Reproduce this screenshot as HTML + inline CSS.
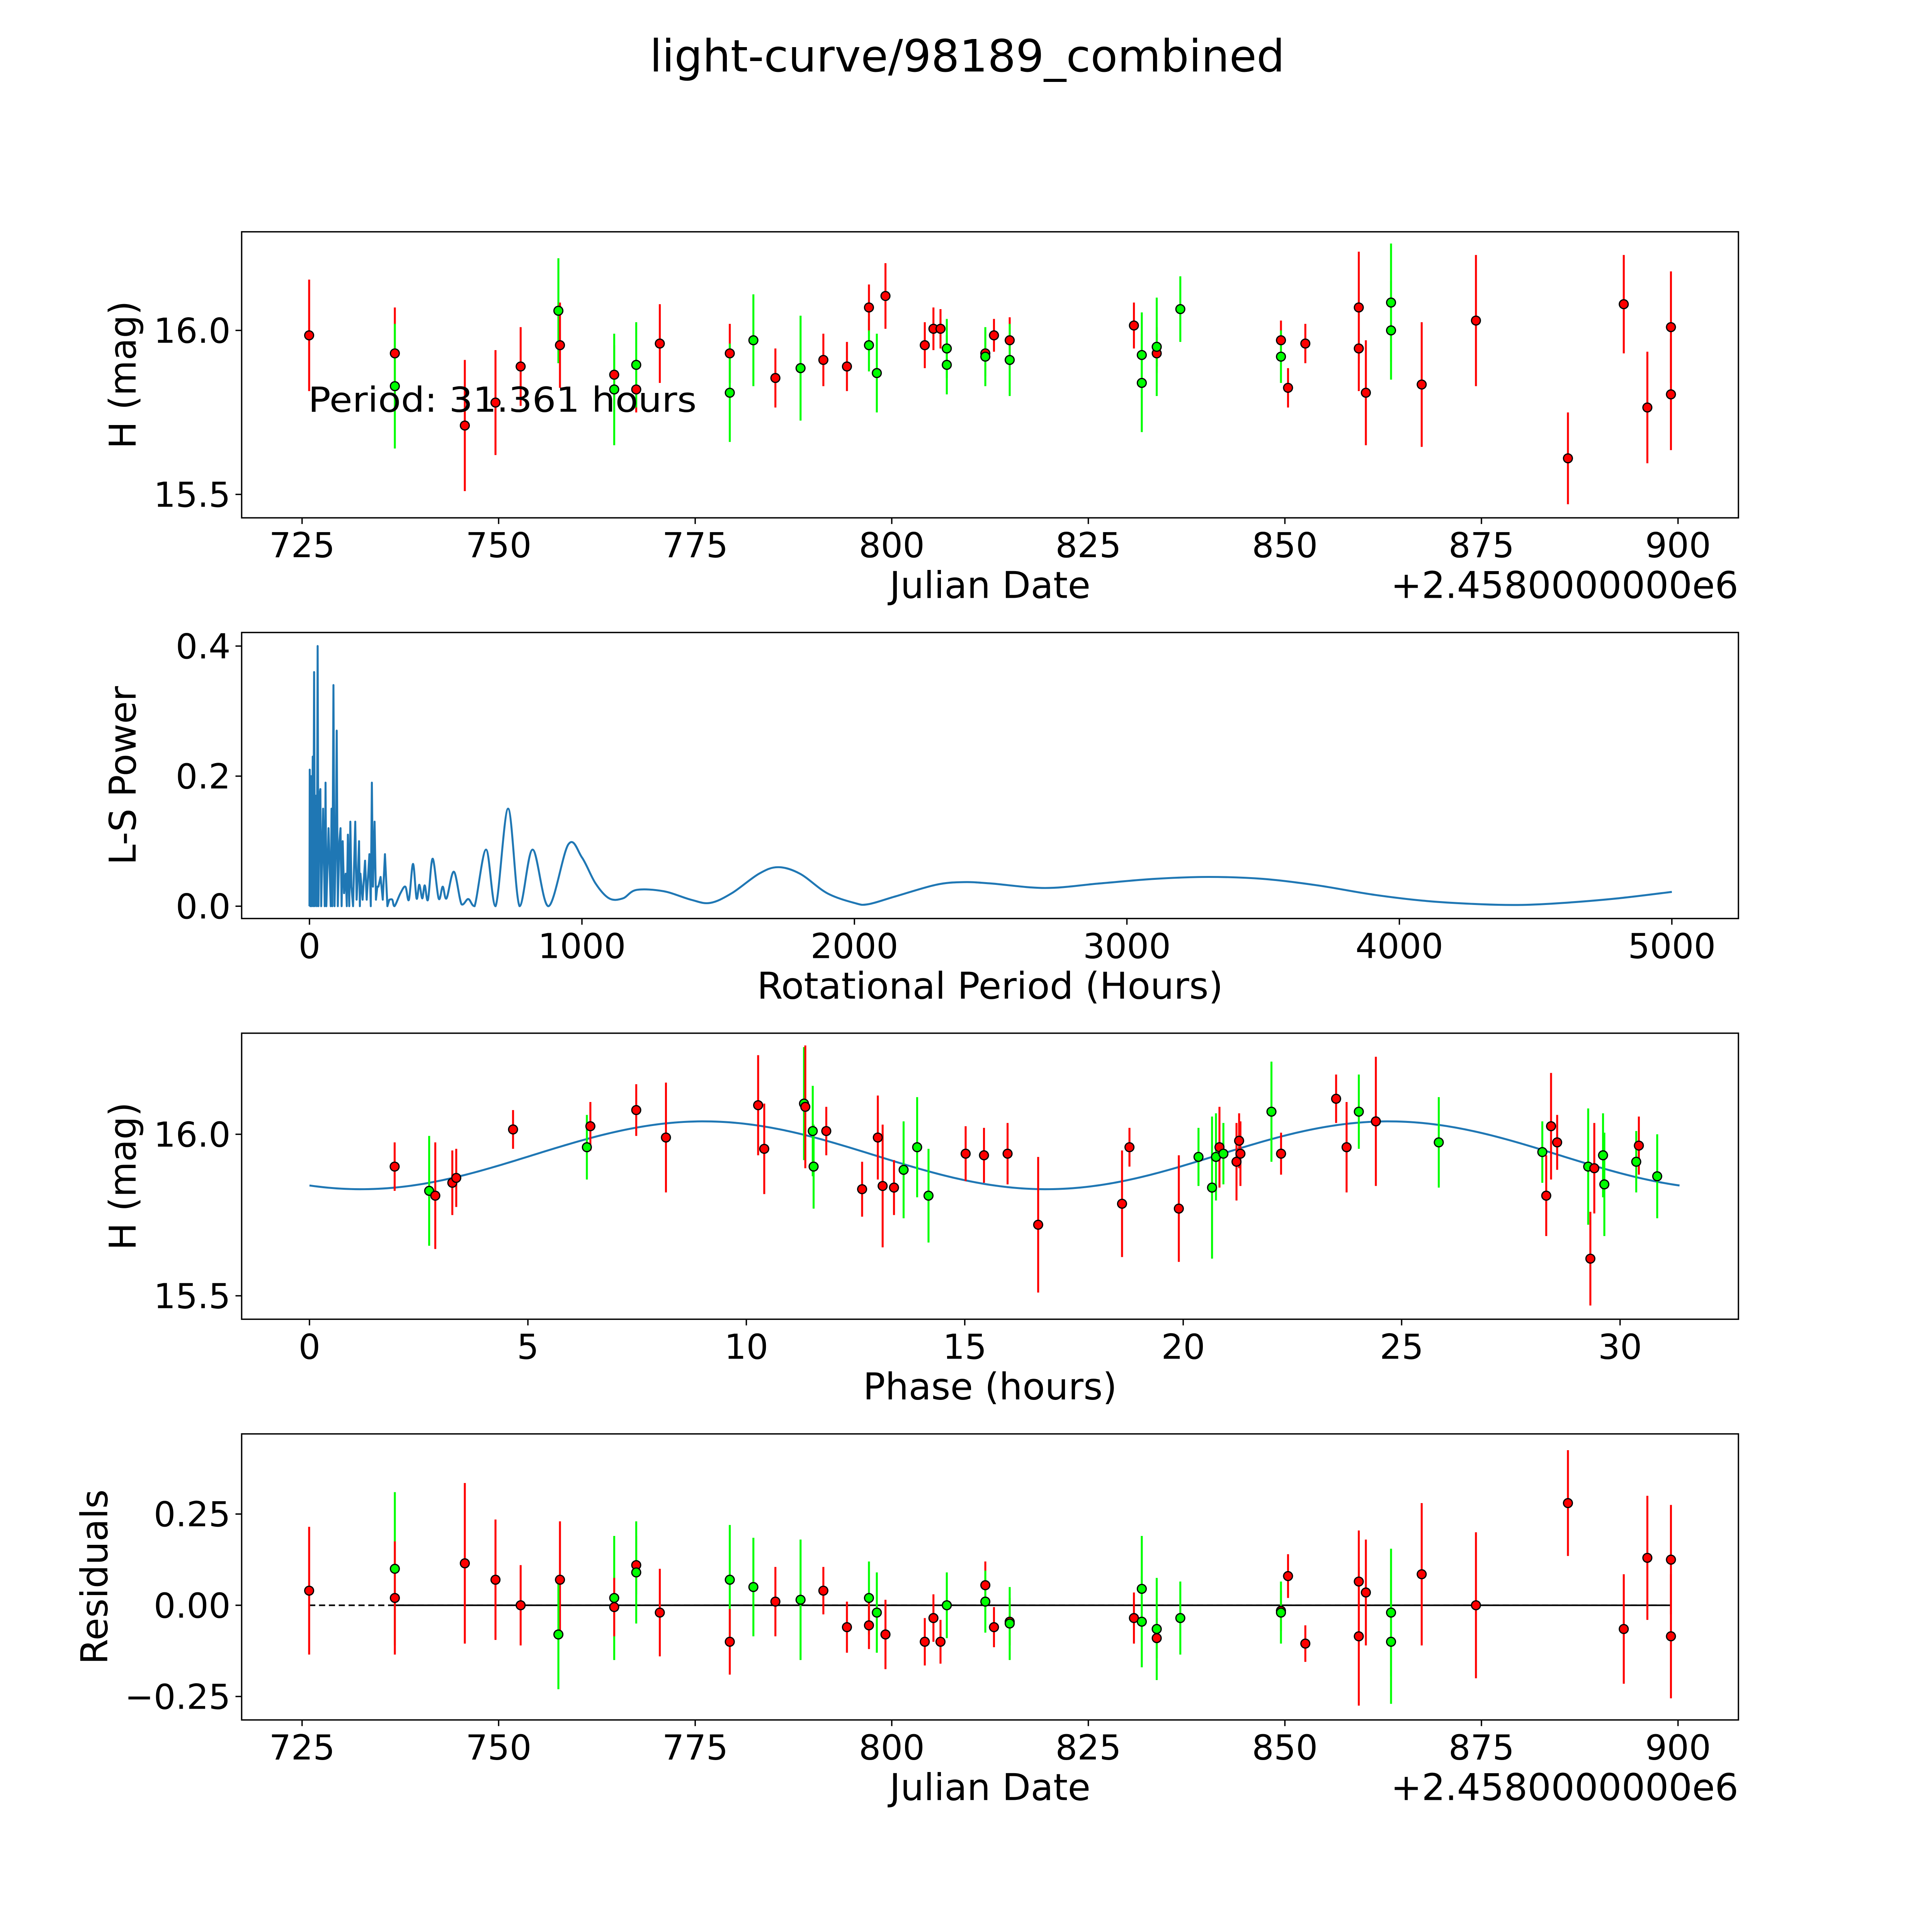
<!DOCTYPE html>
<html><head><meta charset="utf-8">
<style>
html,body{margin:0;padding:0;background:#fff;overflow:hidden;width:100vw;height:100vh;}
svg{display:block;width:100vw;height:100vh;}
text{font-family:"DejaVu Sans","Liberation Sans",sans-serif;fill:#000;}
</style></head>
<body>
<svg id="fig" xmlns="http://www.w3.org/2000/svg" viewBox="0 0 1567 1567" preserveAspectRatio="none">
<rect x="0" y="0" width="1567" height="1567" fill="#fff"/>
<text x="527" y="58" font-size="36" textLength="515" lengthAdjust="spacingAndGlyphs">light-curve/98189_combined</text>
</svg>
<script>
// ---- Panel 1: light curve data ----
const lcDates = [725.9,736.8,736.8,745.7,749.6,752.8,757.6,757.8,764.7,764.7,767.5,767.5,770.5,779.4,779.4,782.4,785.2,788.4,791.3,794.3,797.1,797.1,798.1,799.2,804.2,805.3,806.2,807.0,807.0,811.9,811.9,813.0,815.0,815.0,830.8,831.8,831.8,833.7,833.7,833.7,836.7,849.5,849.5,850.4,852.6,859.4,859.4,860.3,863.5,863.5,867.4,874.3,886.0,893.1,896.1,899.1,899.1];
const lcMags = [15.985,15.93,15.83,15.71,15.78,15.89,16.06,15.955,15.865,15.82,15.82,15.895,15.96,15.93,15.81,15.97,15.855,15.885,15.91,15.89,15.955,16.07,15.87,16.105,15.955,16.005,16.005,15.945,15.895,15.93,15.92,15.985,15.97,15.91,16.015,15.925,15.84,15.95,15.93,15.95,16.065,15.97,15.92,15.825,15.96,16.07,15.945,15.81,16.085,16.0,15.835,16.03,15.61,16.08,15.765,16.01,15.805];
const lcErrs = [0.17,0.14,0.19,0.2,0.16,0.12,0.16,0.13,0.09,0.17,0.07,0.13,0.12,0.09,0.15,0.14,0.09,0.16,0.08,0.075,0.08,0.07,0.12,0.1,0.07,0.065,0.06,0.09,0.09,0.07,0.09,0.05,0.07,0.11,0.07,0.13,0.15,0.06,0.06,0.15,0.1,0.06,0.08,0.06,0.06,0.17,0.13,0.16,0.18,0.15,0.19,0.2,0.14,0.15,0.17,0.17,0.17];
const lcColors = ['r','r','g','r','r','r','g','r','r','g','r','g','r','r','g','g','r','g','r','r','g','r','g','r','r','r','r','g','g','r','g','r','r','g','r','g','g','r','r','g','g','r','g','r','r','r','r','r','g','g','r','r','r','r','r','r','r'];
const lcXTicks = [725,750,775,800,825,850,875,900];
const lcYTicks = [15.5,16.0];

// ---- Panel 2: periodogram ----
const spikePeriods = [0,1,3,6,8,10, 12,14,17,20,24, 27,30,33,37,40, 43,50,56,59,62, 70,78,81,84,88, 92,97,100,104,110, 114,118,122,127,133, 137,141,146,150,154, 160,168,173,178,182, 185,187,195,204,210, 220,225,229,233,239, 244,249,253,261,269, 277,286,293];
const spikePower = [0,0.21,0,0.2,0,0.12, 0.23,0,0.36,0,0.17, 0,0.40,0,0.17,0.18, 0,0.15,0,0.19,0, 0.12,0,0.15,0,0.34, 0,0.1,0.27,0,0.1, 0.12,0,0.10,0.02,0.05, 0,0.11,0,0.13,0.03, 0,0.13,0.01,0.05,0.10, 0,0.05,0.01,0.07,0.01, 0.08,0,0.19,0.03,0.13, 0.01,0.03,0.03,0.045,0.01, 0.08,0,0.01];
const smoothPeriods = [304,312,334,352,365,380,393,403,414,423, 435,452,474,489,503,530,558,583,606,648, 683,729,771,819,877,950,1000,1050,1100,1150, 1200,1300,1400,1470,1550,1650,1720,1800,1900,2000, 2050,2150,2300,2400,2500,2700,2900,3100,3300,3500, 3700,3900,4100,4300,4450,4600,4800,5000];
const smoothPower = [0.01,0,0.02,0.03,0.01,0.065,0.012,0.033,0.012,0.032, 0.01,0.073,0.012,0.03,0.012,0.053,0.003,0.011,0.0,0.087, 0.0,0.15,0.0,0.087,0.0,0.095,0.075,0.035,0.012,0.012, 0.025,0.023,0.01,0.005,0.02,0.05,0.06,0.05,0.02,0.005, 0.003,0.015,0.033,0.037,0.035,0.028,0.035,0.042,0.045,0.042, 0.032,0.018,0.008,0.003,0.002,0.005,0.012,0.022];
const pgXTicks = [0,1000,2000,3000,4000,5000];
const pgYTicks = [0.0,0.2,0.4];

// ---- Panel 3: phased light curve ----
const phPhase = [1.95,2.74,2.88,3.27,3.36,4.66,6.35,6.43,7.48,8.16,10.27,10.41,11.32,11.35,11.52,11.54,11.83,12.65,13.01,13.12,13.38,13.6,13.91,14.17,15.02,15.44,15.98,16.68,18.6,18.77,19.9,20.35,20.66,20.75,20.83,20.92,21.22,21.28,21.31,22.24,22.02,23.5,23.74,24.02,24.41,25.85,28.22,28.31,28.42,28.56,29.27,29.32,29.41,29.61,29.64,30.43,30.37,30.85];
const phMags = [15.90,15.825,15.81,15.85,15.865,16.015,15.96,16.025,16.075,15.99,16.09,15.955,16.095,16.085,16.01,15.9,16.01,15.83,15.99,15.84,15.835,15.89,15.96,15.81,15.94,15.935,15.94,15.72,15.785,15.96,15.77,15.93,15.835,15.93,15.96,15.94,15.915,15.98,15.94,15.94,16.07,16.11,15.96,16.07,16.04,15.975,15.945,15.81,16.025,15.975,15.9,15.615,15.895,15.935,15.845,15.965,15.915,15.87];
const phErrs = [0.075,0.17,0.165,0.1,0.09,0.06,0.1,0.075,0.08,0.17,0.155,0.14,0.175,0.19,0.14,0.13,0.075,0.085,0.13,0.19,0.085,0.15,0.155,0.145,0.085,0.085,0.095,0.21,0.165,0.06,0.165,0.09,0.22,0.135,0.125,0.095,0.12,0.085,0.1,0.065,0.155,0.075,0.14,0.115,0.2,0.14,0.095,0.125,0.165,0.085,0.18,0.145,0.14,0.13,0.16,0.09,0.095,0.13];
const phColors = ['r','g','r','r','r','r','g','r','r','r','r','r','g','r','g','g','r','r','r','r','r','g','g','g','r','r','r','r','r','r','r','g','g','g','r','g','r','r','r','r','g','r','r','g','r','g','g','r','r','r','g','r','r','g','g','r','g','g'];
const fitParams = [15.935, 0.105, 5.1, 15.68]; // mean, amplitude, phase offset, sub-period
const phPeriod = [31.361];
const phXTicks = [0,5,10,15,20,25,30];
const phYTicks = [15.5,16.0];

// ---- Panel 4: residuals ----
const rsDates = [725.9,736.8,736.8,745.7,749.6,752.8,757.8,757.6,764.7,764.7,767.5,767.5,770.5,779.4,779.4,782.4,785.2,788.4,791.3,794.3,797.1,797.1,798.1,799.2,804.2,805.3,806.2,807.0,811.9,811.9,813.0,815.0,815.0,830.8,831.8,831.8,833.7,833.7,833.7,836.7,849.5,849.5,850.4,852.6,859.4,859.4,860.3,863.5,863.5,867.4,874.3,886.0,893.1,896.1,899.1,899.1];
const rsVals = [0.04,0.10,0.02,0.115,0.07,0.0,0.07,-0.08,0.02,-0.005,0.11,0.09,-0.02,0.07,-0.10,0.05,0.01,0.015,0.04,-0.06,0.02,-0.055,-0.02,-0.08,-0.10,-0.035,-0.10,0.0,0.055,0.01,-0.06,-0.045,-0.05,-0.035,0.045,-0.045,-0.065,-0.09,-0.065,-0.035,-0.015,-0.02,0.08,-0.105,0.065,-0.085,0.035,-0.02,-0.10,0.085,0.0,0.28,-0.065,0.13,0.125,-0.085];
const rsErrs = [0.175,0.21,0.155,0.22,0.165,0.11,0.16,0.15,0.17,0.08,0.08,0.14,0.12,0.15,0.09,0.135,0.095,0.165,0.065,0.07,0.1,0.065,0.11,0.095,0.065,0.065,0.06,0.09,0.065,0.085,0.055,0.065,0.1,0.07,0.145,0.125,0.055,0.055,0.14,0.1,0.055,0.085,0.06,0.05,0.14,0.19,0.145,0.175,0.17,0.195,0.2,0.145,0.15,0.17,0.15,0.17];
const rsColors = ['r','g','r','r','r','r','r','g','g','r','r','g','r','g','r','g','r','g','r','r','g','r','g','r','r','r','r','g','r','g','r','r','g','r','g','g','r','r','g','g','r','g','r','r','r','r','r','g','g','r','r','r','r','r','r','r'];
const rsYTicks = [-0.25,0.00,0.25];

const NS = 'http://www.w3.org/2000/svg';
const svg = document.getElementById('fig');
const COL = {r:'#ff0000', g:'#00ff00'};
function mk(tag, attrs, parent){
  const e = document.createElementNS(NS, tag);
  for (const k in attrs) e.setAttribute(k, attrs[k]);
  (parent||svg).appendChild(e);
  return e;
}
function lin(d0,d1,r0,r1){ return v => r0 + (v-d0)*(r1-r0)/(d1-d0); }

const L = 196, R = 1410;
function axesFrame(name, top, bottom, xs, ys, xticks, yticks, xfmt, yfmt, xlabel, xlen, ylabel, ylen, yoff, offsetText){
  const g = mk('g', {});
  
  
  const fr = mk('rect', {x:L, y:top, width:R-L, height:bottom-top, fill:'none', stroke:'#000', 'stroke-width':1.1}, g);
  
  
  xticks.forEach(t => {
    const x = xs(t);
    const tk = mk('line', {x1:x, x2:x, y1:bottom, y2:bottom+5, stroke:'#000', 'stroke-width':1.1}, g);
    
    
    const tx = mk('text', {x:x, y:bottom+32, 'font-size':28, 'text-anchor':'middle'}, g);
    
    
    tx.textContent = xfmt(t);
  });
  yticks.forEach(t => {
    const y = ys(t);
    const tk = mk('line', {x1:L-5, x2:L, y1:y, y2:y, stroke:'#000', 'stroke-width':1.1}, g);
    
    
    const tx = mk('text', {x:L-9, y:y+10, 'font-size':28, 'text-anchor':'end'}, g);
    
    
    tx.textContent = yfmt(t);
  });
  const xl = mk('text', {x:(L+R)/2 - xlen/2, y:bottom+65, 'font-size':30, textLength:xlen, lengthAdjust:'spacingAndGlyphs'}, g);
  
  
  xl.textContent = xlabel;
  const cy = (top+bottom)/2;
  const yl = mk('text', {x:-ylen/2, y:0, 'font-size':30, textLength:ylen, lengthAdjust:'spacingAndGlyphs', transform:`translate(${L-yoff},${cy}) rotate(-90)`}, g);
  
  
  yl.textContent = ylabel;
  if (offsetText){
    const ot = mk('text', {x:R-282, y:bottom+65, 'font-size':30, textLength:282, lengthAdjust:'spacingAndGlyphs'}, g);
    
    
    ot.textContent = offsetText;
  }
  return g;
}
function errPoints(g, xs, ys, xv, yv, ev, cv, name){
  for (let i=0;i<xv.length;i++){
    const x = xs(xv[i]);
    const e = mk('line', {x1:x, x2:x, y1:ys(yv[i]-ev[i]), y2:ys(yv[i]+ev[i]), stroke:COL[cv[i]], 'stroke-width':1.6}, g);
    
    
  }
  for (let i=0;i<xv.length;i++){
    const c = mk('circle', {cx:xs(xv[i]), cy:ys(yv[i]), r:3.6, fill:COL[cv[i]], stroke:'#000', 'stroke-width':1}, g);
    
    
  }
}
const fmtInt = v => String(v);
const fmt1 = v => v.toFixed(1);
const fmt2 = v => (v<0?'\u2212':'') + Math.abs(v).toFixed(2);

// Panel 1
{
  const xs = lin(725,900,245,1361), ys = lin(16.0,15.5,268,401);
  const g = axesFrame('light-curve-panel',188,420,xs,ys,lcXTicks,lcYTicks,fmtInt,fmt1,'Julian Date',163,'H (mag)',120,86,'+2.4580000000e6');
  errPoints(g, xs, ys, lcDates, lcMags, lcErrs, lcColors, 'light-curve');
  const t = mk('text', {x:250, y:334, 'font-size':28, textLength:315, lengthAdjust:'spacingAndGlyphs'}, g);
  
  
  t.textContent = 'Period: ' + phPeriod[0].toFixed(3) + ' hours';
}
// Panel 2
{
  const xs = lin(0,5000,251,1356), ys = lin(0,0.4,735,524);
  const g = axesFrame('periodogram-panel',513,745,xs,ys,pgXTicks,pgYTicks,fmtInt,fmt1,'Rotational Period (Hours)',378,'L-S Power',145,86,null);
  let d = '';
  spikePeriods.forEach((p,i)=>{ d += (i?'L':'M') + xs(p).toFixed(2) + ',' + ys(spikePower[i]).toFixed(2); });
  // smooth section via Catmull-Rom spline through the read points
  const pts = [[xs(spikePeriods[spikePeriods.length-1]), ys(spikePower[spikePower.length-1])]];
  smoothPeriods.forEach((p,i)=>{ pts.push([xs(p), ys(smoothPower[i])]); });
  for (let i=0;i<pts.length-1;i++){
    const p0 = pts[Math.max(0,i-1)], p1 = pts[i], p2 = pts[i+1], p3 = pts[Math.min(pts.length-1,i+2)];
    const c1x = p1[0] + (p2[0]-p0[0])/6, c1y = p1[1] + (p2[1]-p0[1])/6;
    const c2x = p2[0] - (p3[0]-p1[0])/6, c2y = p2[1] - (p3[1]-p1[1])/6;
    d += 'C' + c1x.toFixed(2)+','+Math.min(c1y,735).toFixed(2)+' '+c2x.toFixed(2)+','+Math.min(c2y,735).toFixed(2)+' '+p2[0].toFixed(2)+','+p2[1].toFixed(2);
  }
  const pl = mk('path', {d:d, fill:'none', stroke:'#1f77b4', 'stroke-width':1.6, 'stroke-linejoin':'round'}, g);
  
  
}
// Panel 3
{
  const xs = lin(0,30,251,1314), ys = lin(16.0,15.5,920,1051);
  const g = axesFrame('phase-panel',838,1070,xs,ys,phXTicks,phYTicks,fmtInt,fmt1,'Phase (hours)',206,'H (mag)',120,86,null);
  let d = '';
  const n = 300;
  for (let i=0;i<=n;i++){
    const p = phPeriod[0]*i/n;
    const m = fitParams[0] + fitParams[1]*Math.sin(2*Math.PI*(p-fitParams[2])/fitParams[3]);
    d += (i?'L':'M') + xs(p).toFixed(2) + ',' + ys(m).toFixed(2);
  }
  const fl = mk('path', {d:d, fill:'none', stroke:'#1f77b4', 'stroke-width':1.6}, g);
  
  
  errPoints(g, xs, ys, phPhase, phMags, phErrs, phColors, 'phase');
}
// Panel 4
{
  const xs = lin(725,900,245,1361), ys = lin(0,0.25,1302,1228);
  const g = axesFrame('residuals-panel',1163,1395,xs,ys,lcXTicks,rsYTicks,fmtInt,fmt2,'Julian Date',163,'Residuals',142,109,'+2.4580000000e6');
  const zl = mk('line', {x1:xs(725.9), x2:xs(899.1), y1:ys(0), y2:ys(0), stroke:'#000', 'stroke-width':1.3, 'stroke-dasharray':'5,3'}, g);
  
  
  const zs = mk('line', {x1:xs(736.8), x2:xs(899.1), y1:ys(0), y2:ys(0), stroke:'#000', 'stroke-width':1.3}, g);
  
  
  errPoints(g, xs, ys, rsDates, rsVals, rsErrs, rsColors, 'residual');
}
</script>
</body></html>
